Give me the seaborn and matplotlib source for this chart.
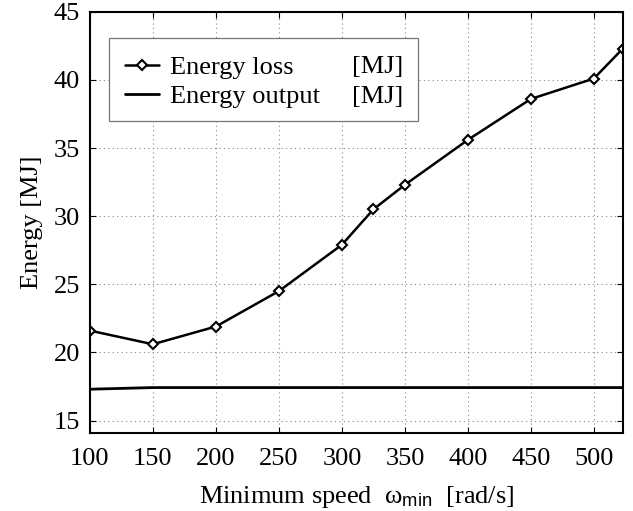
import matplotlib
matplotlib.use("Agg")
import matplotlib.pyplot as plt
from matplotlib.patches import Rectangle
import seaborn as sns
import pandas as pd

speed = [100, 150, 200, 250, 300, 325, 350, 400, 450, 500, 523]
energy_loss = [21.6, 20.6, 21.9, 24.5, 27.9, 30.5, 32.3, 35.6, 38.6, 40.1, 42.3]
energy_output = [17.3, 17.42, 17.42, 17.42, 17.42, 17.42, 17.42, 17.42, 17.42, 17.42, 17.42]
xticks = [100, 150, 200, 250, 300, 350, 400, 450, 500]
yticks = [15, 20, 25, 30, 35, 40, 45]
series_names = ["Energy loss", "Energy output"]
unit = "[MJ]"

sns.set_theme(style="ticks")
plt.rcParams['font.family'] = ['Liberation Serif', 'DejaVu Serif']
plt.rcParams['mathtext.fontset'] = 'custom'
plt.rcParams['mathtext.rm'] = 'Liberation Serif'
plt.rcParams['mathtext.sf'] = 'Liberation Sans'
plt.rcParams['mathtext.it'] = 'Liberation Serif:italic'
plt.rcParams['text.color'] = 'black'
plt.rcParams['axes.labelcolor'] = 'black'
plt.rcParams['xtick.color'] = 'black'
plt.rcParams['ytick.color'] = 'black'

FS = 19

df_loss = pd.DataFrame({"speed": speed, "energy": energy_loss})
df_out = pd.DataFrame({"speed": speed, "energy": energy_output})

fig = plt.figure(figsize=(6.33, 5.11), dpi=100)
ax = fig.add_axes([0.142, 0.153, 0.842, 0.824])

sns.lineplot(data=df_loss, x="speed", y="energy", ax=ax, color="black", lw=1.8,
             marker="D", markersize=5.5, markerfacecolor="white",
             markeredgecolor="black", markeredgewidth=1.5, label=series_names[0])
sns.lineplot(data=df_out, x="speed", y="energy", ax=ax, color="black", lw=2.0,
             label=series_names[1])

ax.set_xlim(100, 523)
ax.set_ylim(14.1, 45)
ax.set_xticks(xticks)
ax.set_yticks(yticks)
ax.tick_params(direction="in", top=True, right=True, labelsize=FS, length=4,
               width=0.8, colors="black")
ax.tick_params(axis="x", pad=11)
ax.tick_params(axis="y", pad=7)
for s in ax.spines.values():
    s.set_linewidth(1.5)
    s.set_color("black")
ax.grid(True, linestyle=(0, (1, 3)), color="#888888", lw=0.8)

ax.set_xlabel(r"Minimum speed  ω$_{\mathsf{min}}$  [rad/s]", fontsize=FS, labelpad=10)
ax.set_ylabel("Energy [MJ]", fontsize=FS, labelpad=8)

leg = ax.legend(loc="center left", bbox_to_anchor=(0.0657, 0.8335), fontsize=FS,
                frameon=False, handlelength=1.3, borderpad=0, labelspacing=0.2,
                handletextpad=0.42, borderaxespad=0)
for t in leg.get_texts():
    t.set_color("black")
ax.add_patch(Rectangle((0.0357, 0.741), 0.58, 0.197, transform=ax.transAxes,
                       facecolor="white", edgecolor="#777777", lw=0.9, zorder=4))
leg.set_zorder(6)
ax.text(0.492, 0.869, unit, transform=ax.transAxes, fontsize=FS, va="center", ha="left", zorder=7)
ax.text(0.492, 0.798, unit, transform=ax.transAxes, fontsize=FS, va="center", ha="left", zorder=7)

fig.savefig("out.png", dpi=100)
